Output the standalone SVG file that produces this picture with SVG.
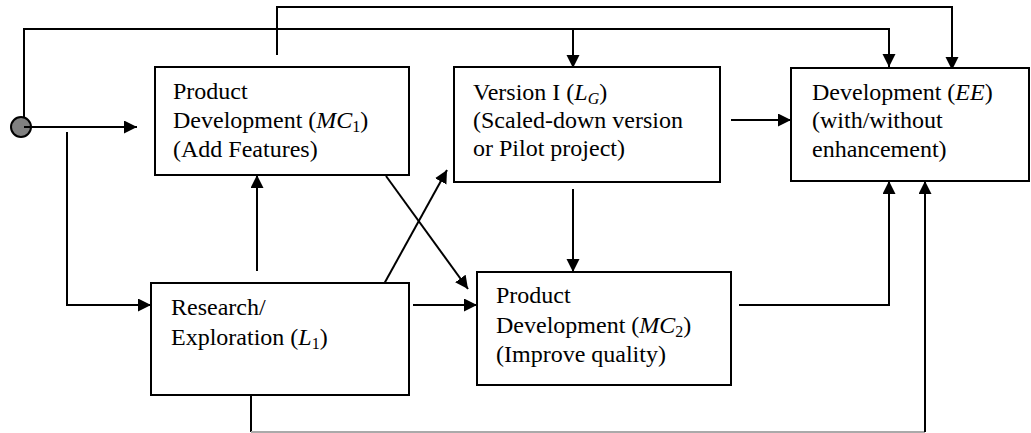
<svg xmlns="http://www.w3.org/2000/svg" width="1031" height="433" viewBox="0 0 1031 433">
<style>
.box{fill:#fff;stroke:#000;stroke-width:2}
.t{font-family:"Liberation Serif","Times New Roman",serif;font-size:24px;fill:#000}
.c{fill:none;stroke:#000;stroke-width:2}
.g{fill:none;stroke:#aaa;stroke-width:2}
</style>
<defs>
<marker id="ah" markerUnits="userSpaceOnUse" markerWidth="14" markerHeight="14" refX="13" refY="6.5" orient="auto">
<path d="M0,0 L13,6.5 L0,13 z" fill="#000"/>
</marker>
</defs>
<rect width="1031" height="433" fill="#fff"/>
<g id="connectors">
<path class="c" d="M277,55 V7 H952 V70" marker-end="url(#ah)"/>
<path class="c" d="M24,117 V29 H889 V67" marker-end="url(#ah)"/>
<path class="c" d="M573,29 V68" marker-end="url(#ah)"/>
<path class="c" d="M24,127 H137" marker-end="url(#ah)"/>
<path class="c" d="M67,132 V305 H151" marker-end="url(#ah)"/>
<path class="c" d="M257,271 V175" marker-end="url(#ah)"/>
<path class="c" d="M386,176 L468,289" marker-end="url(#ah)"/>
<path class="c" d="M384,284 L447,170" marker-end="url(#ah)"/>
<path class="c" d="M413,305 H477" marker-end="url(#ah)"/>
<path class="c" d="M573,189 V272" marker-end="url(#ah)"/>
<path class="c" d="M731,120 H791" marker-end="url(#ah)"/>
<path class="c" d="M739,305 H889 V181" marker-end="url(#ah)"/>
<path class="c" d="M251,388 V432"/>
<path class="g" d="M251,432 H925"/>
<path class="c" d="M925,432 V181" marker-end="url(#ah)"/>
</g>
<g id="start">
<circle cx="21" cy="127" r="10" fill="#808080" stroke="#000" stroke-width="2"/>
<path class="c" d="M24,127 H34"/>
</g>
<g id="mc1">
<rect class="box" x="155" y="67" width="254" height="108"/>
<text class="t" x="173" y="99">Product</text>
<text class="t" x="173" y="128">Development (<tspan font-style="italic">MC</tspan><tspan font-size="16" dy="4">1</tspan><tspan dy="-4">)</tspan></text>
<text class="t" x="173" y="157">(Add Features)</text>
</g>
<g id="version">
<rect class="box" x="454" y="67" width="266" height="115"/>
<text class="t" x="473" y="100">Version I (<tspan font-style="italic">L</tspan><tspan font-style="italic" font-size="16" dy="4">G</tspan><tspan dy="-4">)</tspan></text>
<text class="t" x="473" y="128">(Scaled-down version</text>
<text class="t" x="473" y="156">or Pilot project)</text>
</g>
<g id="ee">
<rect class="box" x="791" y="68" width="238" height="113"/>
<text class="t" x="812" y="100">Development (<tspan font-style="italic">EE</tspan>)</text>
<text class="t" x="812" y="128"> (with/without</text>
<text class="t" x="812" y="157">enhancement)</text>
</g>
<g id="research">
<rect class="box" x="151" y="283" width="258" height="112"/>
<text class="t" x="171" y="315">Research/</text>
<text class="t" x="171" y="345">Exploration (<tspan font-style="italic">L</tspan><tspan font-size="16" dy="4">1</tspan><tspan dy="-4">)</tspan></text>
</g>
<g id="mc2">
<rect class="box" x="477" y="272" width="254" height="113"/>
<text class="t" x="496" y="303">Product</text>
<text class="t" x="496" y="333">Development (<tspan font-style="italic">MC</tspan><tspan font-size="16" dy="4">2</tspan><tspan dy="-4">)</tspan></text>
<text class="t" x="496" y="362">(Improve quality)</text>
</g>
</svg>
